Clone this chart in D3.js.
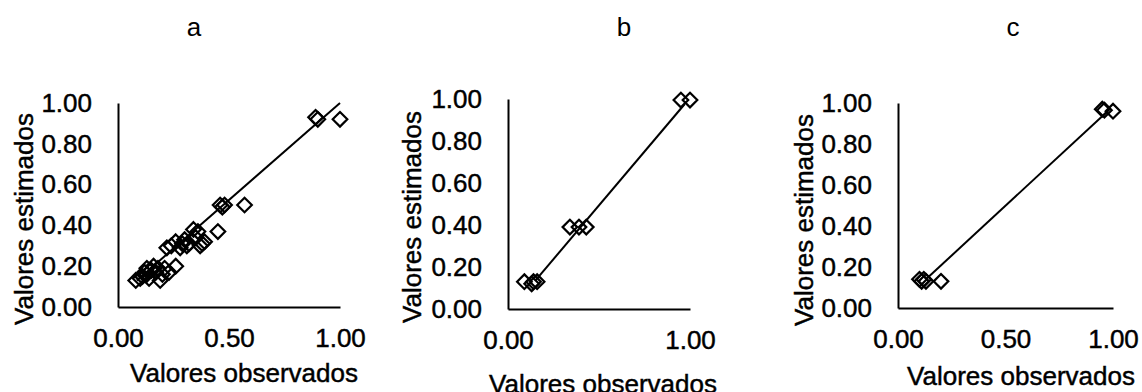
<!DOCTYPE html>
<html>
<head>
<meta charset="utf-8">
<script src="https://cdn.jsdelivr.net/npm/d3@7"></script>
<style>
  html, body { margin: 0; padding: 0; background: #fff; }
  svg { display: block; font-family: "Liberation Sans", Arial, sans-serif; }
</style>
</head>
<body>
<svg id="chart" width="1142" height="392"></svg>
<script>
// ---------- data ----------
const panelNames = ["a", "b", "c"];
const xTitle = "Valores observados";
const yTitle = "Valores estimados";
const yTickValues = [0, 0.2, 0.4, 0.6, 0.8, 1.0];
const xTickValuesA = [0, 0.5, 1.0];
const xTickValuesB = [0, 1.0];
const xTickValuesC = [0, 0.5, 1.0];

const obsA = [0.08, 0.10, 0.11, 0.12, 0.13, 0.13, 0.14, 0.15, 0.16, 0.17, 0.18, 0.19, 0.20, 0.21, 0.23, 0.26,
              0.22, 0.24, 0.26, 0.28, 0.29, 0.30, 0.31, 0.32,
              0.34, 0.36, 0.35, 0.37, 0.38, 0.39, 0.45,
              0.46, 0.47, 0.48, 0.57,
              0.89, 0.90, 1.00];
const estA = [0.13, 0.14, 0.15, 0.17, 0.16, 0.19, 0.14, 0.18, 0.20, 0.17, 0.19, 0.13, 0.16, 0.19, 0.17, 0.20,
              0.29, 0.30, 0.32, 0.29, 0.31, 0.33, 0.30, 0.31,
              0.38, 0.37, 0.34, 0.30, 0.31, 0.32, 0.37,
              0.50, 0.49, 0.50, 0.50,
              0.93, 0.92, 0.92];
const trendObsA = [0.085, 1.0];
const trendEstA = [0.13, 1.0];

const obsB = [0.09, 0.13, 0.14, 0.16, 0.34, 0.39, 0.43, 0.95, 1.00];
const estB = [0.13, 0.12, 0.13, 0.13, 0.39, 0.39, 0.39, 0.995, 0.995];
const trendObsB = [0.15, 0.97];
const trendEstB = [0.135, 0.975];

const obsC = [0.10, 0.11, 0.12, 0.13, 0.20, 0.95, 0.96, 1.00];
const estC = [0.14, 0.13, 0.14, 0.13, 0.13, 0.97, 0.965, 0.96];
const trendObsC = [0.13, 0.97];
const trendEstC = [0.14, 0.955];

// ---------- layout ----------
const panels = [
  { name: panelNames[0], obs: obsA, est: estA, tx: trendObsA, ty: trendEstA, xt: xTickValuesA,
    x0: 118, x1: 340, y0: 307, y1: 103, letterX: 194, xtX: 244, xtY: 382, ytX: 33, ytY: 219 },
  { name: panelNames[1], obs: obsB, est: estB, tx: trendObsB, ty: trendEstB, xt: xTickValuesB,
    x0: 508, x1: 690, y0: 309, y1: 99, letterX: 624, xtX: 603, xtY: 393, ytX: 421, ytY: 217 },
  { name: panelNames[2], obs: obsC, est: estC, tx: trendObsC, ty: trendEstC, xt: xTickValuesC,
    x0: 898, x1: 1113, y0: 308, y1: 103, letterX: 1013, xtX: 1021, xtY: 385, ytX: 813, ytY: 220 }
];

const svg = d3.select("#chart");
svg.append("rect").attr("width", 1142).attr("height", 392).attr("fill", "#fff");

const diamond = {
  draw(ctx, size) {
    const r = Math.sqrt(size / 2);
    ctx.moveTo(0, -r); ctx.lineTo(r, 0); ctx.lineTo(0, r); ctx.lineTo(-r, 0); ctx.closePath();
  }
};
const symbolGen = d3.symbol().type(diamond).size(2 * 7.3 * 7.3);
const fmt = d3.format(".2f");
const tickFont = 26;
const titleFont = 26;
const textStroke = 0.45;

function styleText(sel, size) {
  sel.attr("font-size", size).attr("font-family", "Liberation Sans, Arial, sans-serif")
    .attr("fill", "#000").attr("stroke", "#000").attr("stroke-width", textStroke);
}

panels.forEach(p => {
  const x = d3.scaleLinear().domain([0, 1]).range([p.x0, p.x1]);
  const y = d3.scaleLinear().domain([0, 1]).range([p.y0, p.y1]);
  const g = svg.append("g");

  // panel letter
  g.append("text").attr("x", p.letterX).attr("y", 36).attr("text-anchor", "middle")
    .attr("font-size", 26).attr("fill", "#000").text(p.name);

  // y axis
  const ya = g.append("g").attr("transform", `translate(${p.x0},0)`)
    .call(d3.axisLeft(y).tickValues(yTickValues).tickFormat(fmt).tickSizeInner(0).tickSizeOuter(0).tickPadding(26));
  ya.select(".domain").attr("stroke", "#000").attr("stroke-width", 2);
  styleText(ya.selectAll("text"), tickFont);

  // x axis
  const xa = g.append("g").attr("transform", `translate(0,${p.y0})`)
    .call(d3.axisBottom(x).tickValues(p.xt).tickFormat(fmt).tickSizeInner(0).tickSizeOuter(0).tickPadding(22));
  xa.select(".domain").attr("stroke", "#000").attr("stroke-width", 2);
  styleText(xa.selectAll("text"), tickFont);

  // titles
  styleText(g.append("text").attr("x", p.xtX).attr("y", p.xtY).attr("text-anchor", "middle").text(xTitle), titleFont);
  styleText(g.append("text").attr("transform", `translate(${p.ytX},${p.ytY}) rotate(-90)`)
    .attr("text-anchor", "middle").text(yTitle), titleFont);

  // trend line
  const line = d3.line().x(d => x(d[0])).y(d => y(d[1]));
  g.append("path").datum(d3.zip(p.tx, p.ty)).attr("d", line)
    .attr("fill", "none").attr("stroke", "#000").attr("stroke-width", 2);

  // points
  g.selectAll("path.pt").data(d3.zip(p.obs, p.est)).join("path").attr("class", "pt")
    .attr("d", symbolGen)
    .attr("transform", d => `translate(${x(d[0])},${y(d[1])})`)
    .attr("fill", "none").attr("stroke", "#000").attr("stroke-width", 2.2);
});
</script>
</body>
</html>
